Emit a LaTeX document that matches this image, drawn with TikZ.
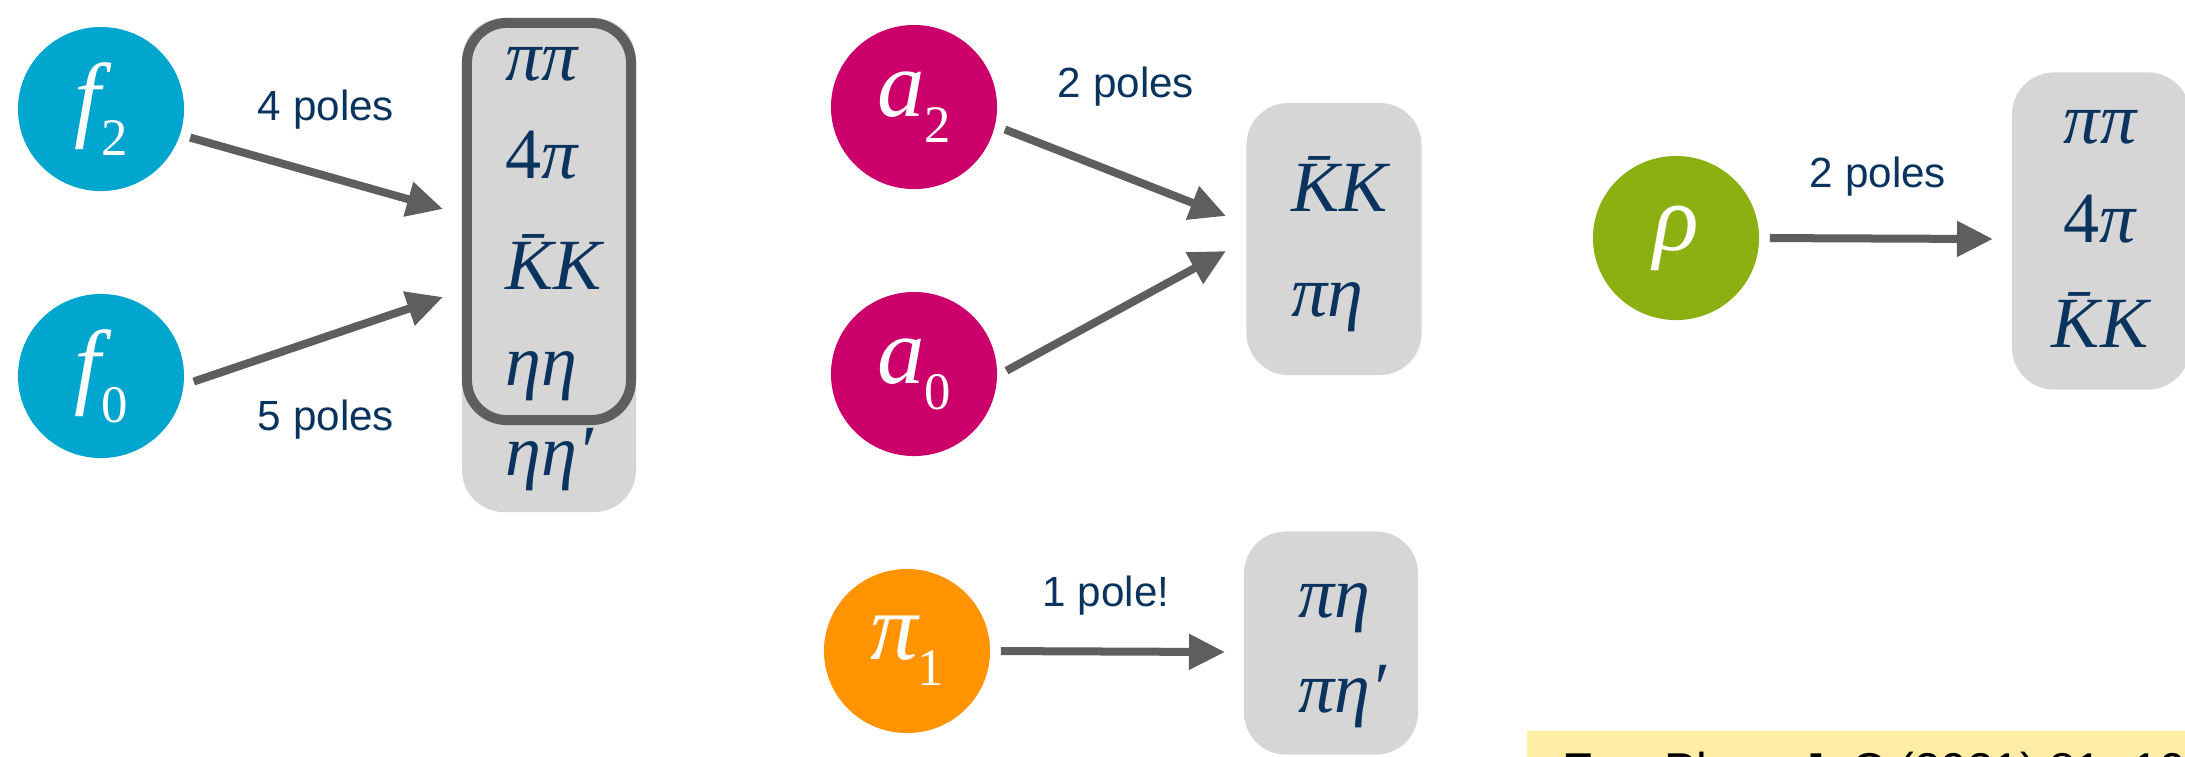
\documentclass[tikz,border=0pt]{standalone}
\usepackage{fontspec}
\setmainfont{Liberation Serif}
\newfontfamily\polesfont{Liberation Sans}
\usetikzlibrary{arrows.meta,shapes.geometric,shadows}

\definecolor{fblue}{RGB}{0,166,206}
\definecolor{amag}{RGB}{204,0,107}
\definecolor{rhogreen}{RGB}{140,176,17}
\definecolor{piorange}{RGB}{255,148,0}
\definecolor{boxgray}{RGB}{214,214,214}
\definecolor{arrgray}{RGB}{94,94,94}
\definecolor{navy}{RGB}{10,52,94}
\definecolor{noteyellow}{RGB}{255,237,166}

\newcommand{\lowsub}[1]{\raisebox{-0.6ex}{\fontsize{15}{15}\selectfont\upshape #1}}

\begin{document}
\begin{tikzpicture}[
    x=0.01cm, y=-0.01cm,
    meson/.style={ellipse, fill=#1, text=white, minimum width=1.66cm, minimum height=1.64cm, inner sep=0pt, font=\fontsize{27}{27}\selectfont\itshape},
    chan/.style={rectangle, rounded corners=0.42cm, fill=boxgray, inner sep=0pt},
    ch/.style={text=navy, inner sep=0pt, font=\fontsize{20.5}{20.5}\selectfont\itshape},
    lbl/.style={text=navy, inner sep=0pt, anchor=base, font=\polesfont\fontsize{12}{12}\selectfont},
    arr/.style={draw=arrgray, line width=0.08cm, -{Triangle[length=0.36cm,width=0.34cm]}, shorten <=0.1cm}
]
    \useasboundingbox (0,0) rectangle (2185,756);
    \clip (0,0) rectangle (2185,756);

    \node[chan, minimum width=1.74cm, minimum height=4.94cm] (fbox) at (549,265) {};
    \node[draw=arrgray, line width=0.1cm, rounded corners=0.4cm, minimum width=1.64cm, minimum height=3.97cm, inner sep=0pt] (fsel) at (549,221.5) {};
    \node[chan, minimum width=1.75cm, minimum height=2.72cm] (abox) at (1334,239) {};
    \node[chan, minimum width=1.78cm, minimum height=3.17cm] (rhobox) at (2101,231) {};
    \node[chan, minimum width=1.74cm, minimum height=2.23cm] (pibox) at (1331,643) {};

    \node[ch, anchor=base west] (fch1) at (505,80) {ππ};
    \node[ch, anchor=base west] (fch2) at (505,178) {{\upshape 4}π};
    \node[ch, anchor=base west] (fch3) at (505,289) {\={K}K};
    \node[ch, anchor=base west] (fch4) at (505,385) {ηη};
    \node[ch, anchor=base west] (fch5) at (505,475) {ηη′};

    \node[ch, anchor=base west] (ach1) at (1291,211) {\={K}K};
    \node[ch, anchor=base west] (ach2) at (1291,316) {πη};

    \node[ch, anchor=base] (rch1) at (2100,143) {ππ};
    \node[ch, anchor=base] (rch2) at (2100,242) {{\upshape 4}π};
    \node[ch, anchor=base] (rch3) at (2100,347) {\={K}K};

    \node[ch, anchor=base west] (pch1) at (1298,617) {πη};
    \node[ch, anchor=base west] (pch2) at (1298,712) {πη′};

    \node[meson=fblue] (f2) at (101,109) {f\lowsub{2}};
    \node[meson=fblue] (f0) at (101,376) {f\lowsub{0}};
    \node[meson=amag] (a2) at (914,107) {a\lowsub{2}};
    \node[meson=amag] (a0) at (914,374) {a\lowsub{0}};
    \node[meson=rhogreen] (rho) at (1676,238) {ρ};
    \node[meson=piorange] (pi1) at (907,651) {π\lowsub{1}};

    \coordinate (tf2) at (443,209);
    \coordinate (tf0) at (443,297);
    \coordinate (ta2) at (1226,216);
    \coordinate (ta0) at (1226,251);
    \coordinate (trho) at (1993,239);
    \coordinate (tpi) at (1225,652);

    \draw[arr] (f2.-18) -- (tf2);
    \draw[arr] (f0.-6) -- (tf0);
    \draw[arr] (a2.-13) -- (ta2);
    \draw[arr] (a0.-1) -- (ta0);
    \draw[arr] (rho.east) -- (trho);
    \draw[arr] (pi1.east) -- (tpi);

    \node[lbl] (l4) at (326,120) {4 poles};
    \node[lbl] (l5) at (326,430) {5 poles};
    \node[lbl] (la) at (1126,97) {2 poles};
    \node[lbl] (lrho) at (1878,187) {2 poles};
    \node[lbl] (lpi) at (1106,606) {1 pole!};

    \node[anchor=north west, fill=noteyellow, draw=white, line width=0.12cm, minimum width=7cm, minimum height=1cm, inner sep=0pt,
        drop shadow={shadow xshift=-0.03cm, shadow yshift=0.03cm, opacity=0.25}] (note) at (1515,719) {};
    \node[anchor=base west, inner sep=0pt, font=\polesfont\fontsize{13.5}{13.5}\selectfont] (notetxt) at (1562,786) {Eur. Phys. J. C (2021) 81: 1056};
\end{tikzpicture}
\end{document}
